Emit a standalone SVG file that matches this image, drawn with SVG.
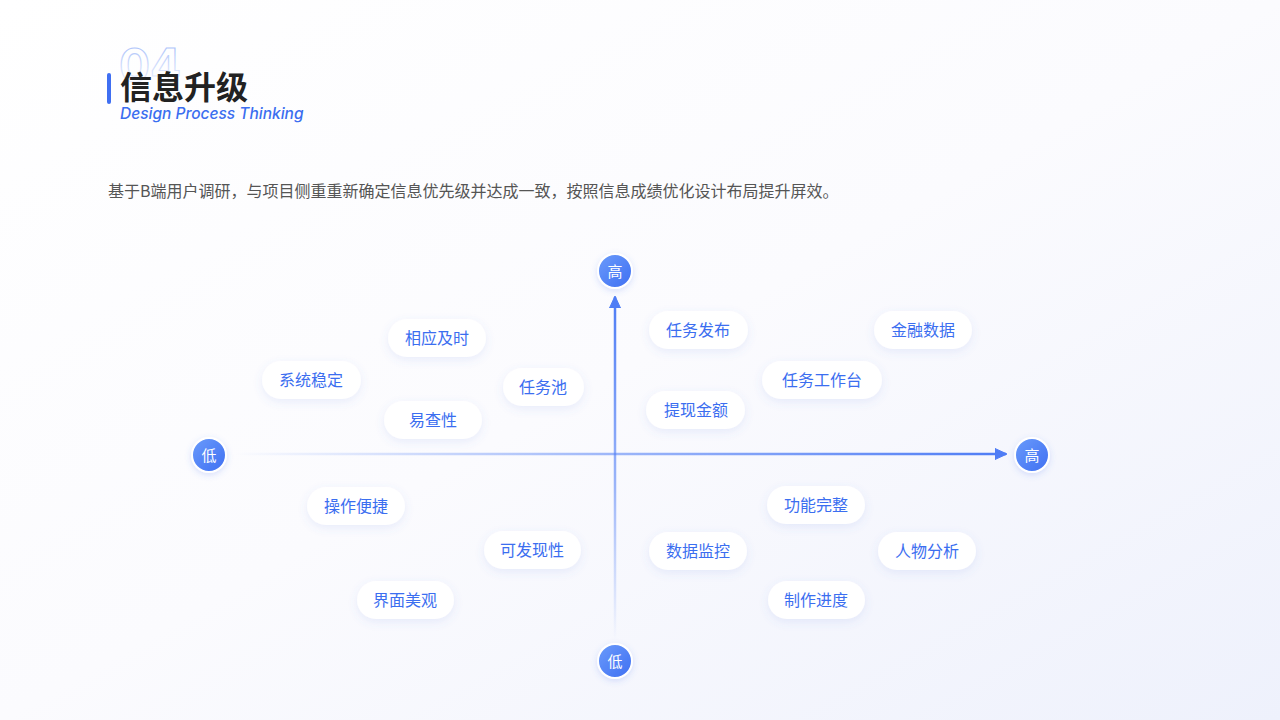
<svg xmlns="http://www.w3.org/2000/svg" width="1280" height="720" viewBox="0 0 1280 720">
<defs>
<linearGradient id="bg" x1="0" y1="0" x2="1" y2="1">
<stop offset="0" stop-color="#ffffff"/>
<stop offset="0.5" stop-color="#fbfbfe"/>
<stop offset="1" stop-color="#eef1fc"/>
</linearGradient>
<linearGradient id="hgrad" gradientUnits="userSpaceOnUse" x1="235" y1="0" x2="1000" y2="0">
<stop offset="0" stop-color="#4f7df5" stop-opacity="0"/>
<stop offset="0.5" stop-color="#4f7df5" stop-opacity="0.55"/>
<stop offset="1" stop-color="#4f7df5" stop-opacity="1"/>
</linearGradient>
<linearGradient id="vgrad" gradientUnits="userSpaceOnUse" x1="0" y1="640" x2="0" y2="300">
<stop offset="0" stop-color="#4f7df5" stop-opacity="0"/>
<stop offset="0.45" stop-color="#4f7df5" stop-opacity="0.55"/>
<stop offset="1" stop-color="#4f7df5" stop-opacity="1"/>
</linearGradient>
<linearGradient id="circ" x1="0" y1="0" x2="1" y2="1">
<stop offset="0" stop-color="#6a9bfb"/>
<stop offset="1" stop-color="#3f6ff2"/>
</linearGradient>
<linearGradient id="numg" x1="0" y1="0" x2="0" y2="1">
<stop offset="0" stop-color="#8aa8f7" stop-opacity="0.9"/>
<stop offset="1" stop-color="#c8d6fb" stop-opacity="0.2"/>
</linearGradient>
<filter id="sh" x="-30%" y="-50%" width="160%" height="220%">
<feDropShadow dx="0" dy="3" stdDeviation="5" flood-color="#5b7be0" flood-opacity="0.12"/>
</filter>
<filter id="csh" x="-50%" y="-50%" width="200%" height="200%">
<feDropShadow dx="0" dy="2" stdDeviation="3" flood-color="#3f6ff2" flood-opacity="0.2"/>
</filter>
<marker id="arr" viewBox="0 0 12 12" refX="11" refY="6" markerWidth="12" markerHeight="12" markerUnits="userSpaceOnUse" orient="auto">
<path d="M0,0.5 L12,6 L0,11.5 Z" fill="#4f7df5" stroke="#4f7df5" stroke-width="1" stroke-linejoin="round"/>
</marker>
</defs>
<style>
.pill rect{fill:#ffffff;filter:url(#sh);}
.pill text{font-family:"Noto Sans CJK SC","Noto Sans",sans-serif;font-size:16px;fill:#3b6ef0;text-anchor:middle;}
.ax circle{fill:url(#circ);stroke:#ffffff;stroke-width:2;filter:url(#csh);}
.ax text{font-family:"Noto Sans CJK SC",sans-serif;font-size:15px;fill:#ffffff;text-anchor:middle;}
</style>
<rect width="1280" height="720" fill="url(#bg)"/>

<g id="header">
<text x="119" y="82" font-family="Inter,'Noto Sans',sans-serif" font-size="46" font-weight="700" fill="none" stroke="url(#numg)" stroke-width="1.2">04</text>
<rect x="107" y="73" width="4" height="31" rx="2" fill="#3f6ff2"/>
<text x="120" y="99" font-family="'Noto Sans CJK SC',sans-serif" font-size="32" font-weight="700" fill="#222222">信息升级</text>
<text x="120" y="119" font-family="Inter,'Noto Sans',sans-serif" font-size="15.5" font-weight="500" font-style="italic" fill="#3b6ef0">Design Process Thinking</text>
<text x="108" y="197" font-family="'Noto Sans CJK SC',sans-serif" font-size="16" fill="#555555">基于B端用户调研，与项目侧重重新确定信息优先级并达成一致，按照信息成绩优化设计布局提升屏效。</text>
</g>

<g id="connectors">
<line x1="235" y1="454" x2="1006" y2="454" stroke="url(#hgrad)" stroke-width="2.5" marker-end="url(#arr)"/>
<line x1="615" y1="640" x2="615" y2="297" stroke="url(#vgrad)" stroke-width="2.5" marker-end="url(#arr)"/>
</g>

<g id="axis-top" class="ax"><circle cx="615" cy="271" r="17"/><text x="615" y="276.5">高</text></g>
<g id="axis-left" class="ax"><circle cx="209" cy="455" r="17"/><text x="209" y="460.5">低</text></g>
<g id="axis-right" class="ax"><circle cx="1032" cy="455" r="17"/><text x="1032" y="460.5">高</text></g>
<g id="axis-bottom" class="ax"><circle cx="615" cy="661" r="17"/><text x="615" y="666.5">低</text></g>

<g id="n1" class="pill"><rect x="388" y="319" width="98" height="38" rx="19"/><text x="437" y="344">相应及时</text></g>
<g id="n2" class="pill"><rect x="262" y="361" width="99" height="38" rx="19"/><text x="311" y="386">系统稳定</text></g>
<g id="n3" class="pill"><rect x="384" y="401" width="98" height="38" rx="19"/><text x="433" y="426">易查性</text></g>
<g id="n4" class="pill"><rect x="503" y="368" width="81" height="38" rx="19"/><text x="543" y="393">任务池</text></g>
<g id="n5" class="pill"><rect x="649" y="311" width="99" height="38" rx="19"/><text x="698" y="336">任务发布</text></g>
<g id="n6" class="pill"><rect x="874" y="311" width="98" height="38" rx="19"/><text x="923" y="336">金融数据</text></g>
<g id="n7" class="pill"><rect x="762" y="361" width="120" height="38" rx="19"/><text x="822" y="386">任务工作台</text></g>
<g id="n8" class="pill"><rect x="646" y="391" width="99" height="38" rx="19"/><text x="696" y="416">提现金额</text></g>
<g id="n9" class="pill"><rect x="307" y="487" width="98" height="38" rx="19"/><text x="356" y="512">操作便捷</text></g>
<g id="n10" class="pill"><rect x="484" y="531" width="97" height="38" rx="19"/><text x="532" y="556">可发现性</text></g>
<g id="n11" class="pill"><rect x="357" y="581" width="97" height="38" rx="19"/><text x="405" y="606">界面美观</text></g>
<g id="n12" class="pill"><rect x="767" y="486" width="98" height="38" rx="19"/><text x="816" y="511">功能完整</text></g>
<g id="n13" class="pill"><rect x="649" y="532" width="98" height="38" rx="19"/><text x="698" y="557">数据监控</text></g>
<g id="n14" class="pill"><rect x="878" y="532" width="98" height="38" rx="19"/><text x="927" y="557">人物分析</text></g>
<g id="n15" class="pill"><rect x="768" y="581" width="97" height="38" rx="19"/><text x="816" y="606">制作进度</text></g>
</svg>
